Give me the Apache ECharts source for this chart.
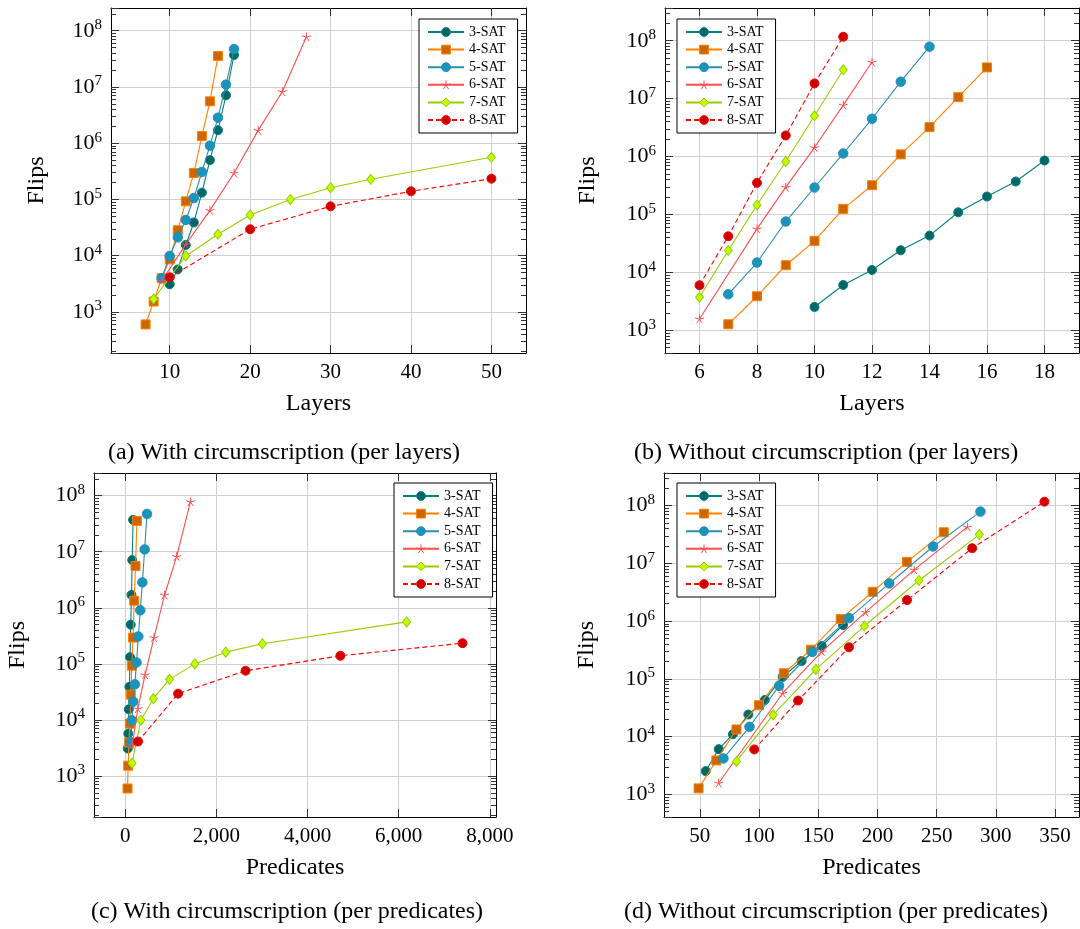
<!DOCTYPE html>
<html><head><meta charset="utf-8">
<script src="https://cdn.jsdelivr.net/npm/echarts@6/dist/echarts.min.js"></script>
<style>html,body{margin:0;padding:0;background:#fff}#c{width:1080px;height:929px}</style>
</head><body><div id="c"></div>
<script>
// ---------- DATA ----------
const seriesNames = ['3-SAT', '4-SAT', '5-SAT', '6-SAT', '7-SAT', '8-SAT'];

// With circumscription (panels a and c)
const wLayers3 = [10, 11, 12, 13, 14, 15, 16, 17, 18];
const wFlips3  = [3100, 5700, 15500, 39000, 132000, 500000, 1700000, 7100000, 37000000];
const wPreds3  = [55, 66, 78, 91, 105, 120, 136, 153, 171];
const wLayers4 = [7, 8, 9, 10, 11, 12, 13, 14, 15, 16];
const wFlips4  = [600, 1530, 3970, 8600, 28300, 92600, 295000, 1340000, 5550000, 35500000];
const wPreds4  = [49, 64, 81, 100, 121, 144, 169, 196, 225, 256];
const wLayers5 = [9, 10, 11, 12, 13, 14, 15, 16, 17, 18];
const wFlips5  = [4000, 9900, 21200, 43200, 106000, 308000, 903000, 2840000, 11000000, 47200000];
const wPreds5  = [117, 145, 176, 210, 247, 287, 330, 376, 425, 477];
const wLayers6 = [9, 12, 15, 18, 21, 24, 27];
const wFlips6  = [3560, 15900, 64000, 295000, 1690000, 8240000, 78000000];
const wPreds6  = [153, 276, 435, 630, 861, 1128, 1431];
const wLayers7 = [8, 12, 16, 20, 25, 30, 35, 50];
const wFlips7  = [1700, 9900, 24000, 53000, 100000, 162000, 228000, 561000];
const wPreds7  = [148, 342, 616, 970, 1525, 2205, 3010, 6175];
const wLayers8 = [10, 20, 30, 40, 50];
const wFlips8  = [4130, 29500, 75500, 139500, 234000];
const wPreds8  = [280, 1160, 2640, 4720, 7400];

// Without circumscription (panels b and d)
const oLayers3 = [10, 11, 12, 13, 14, 15, 16, 17, 18];
const oFlips3  = [2530, 6070, 11000, 24100, 43200, 109000, 204000, 371000, 855000];
const oPreds3  = [55, 66, 78, 91, 105, 120, 136, 153, 171];
const oLayers4 = [7, 8, 9, 10, 11, 12, 13, 14, 15, 16];
const oFlips4  = [1270, 3870, 13300, 35000, 125000, 320000, 1090000, 3220000, 10600000, 34600000];
const oPreds4  = [49, 64, 81, 100, 121, 144, 169, 196, 225, 256];
const oLayers5 = [7, 8, 9, 10, 11, 12, 13, 14];
const oFlips5  = [4190, 14800, 75500, 292000, 1130000, 4490000, 19600000, 78800000];
const oPreds5  = [70, 92, 117, 145, 176, 210, 247, 287];
const oLayers6 = [6, 8, 9, 10, 11, 12];
const oFlips6  = [1570, 56400, 296000, 1430000, 7730000, 42800000];
const oPreds6  = [66, 120, 153, 190, 231, 276];
const oLayers7 = [6, 7, 8, 9, 10, 11];
const oFlips7  = [3720, 23800, 146000, 822000, 5060000, 31500000];
const oPreds7  = [81, 112, 148, 189, 235, 286];
const oLayers8 = [6, 7, 8, 9, 10, 11];
const oFlips8  = [6000, 42100, 352000, 2310000, 18300000, 117000000];
const oPreds8  = [96, 133, 176, 225, 280, 341];

// Tick labels
const xTicksA = [10, 20, 30, 40, 50];
const xTicksB = [6, 8, 10, 12, 14, 16, 18];
const xTicksC = [0, 2000, 4000, 6000, 8000];
const xTicksD = [50, 100, 150, 200, 250, 300, 350];
const yTickExps = [3, 4, 5, 6, 7, 8];

const captions = [
  '(a) With circumscription (per layers)',
  '(b) Without circumscription (per layers)',
  '(c) With circumscription (per predicates)',
  '(d) Without circumscription (per predicates)'
];

// ---------- STYLE / LAYOUT ----------
const FONT = '"Liberation Serif", "DejaVu Serif", serif';
const GRID_C = '#cfcfcf';
const starPath = 'path://M0,0L0,-5M0,0L4.755,-1.545M0,0L2.939,4.045M0,0L-2.939,4.045M0,0L-4.755,-1.545';
const styles = {
  '3-SAT': {symbol: 'circle', symbolSize: 9, itemStyle: {color: '#006666', borderColor: '#008080', borderWidth: 1}, lineStyle: {color: '#008080', width: 1.1}},
  '4-SAT': {symbol: 'rect', symbolSize: 9, itemStyle: {color: '#cc6600', borderColor: '#ff8000', borderWidth: 1}, lineStyle: {color: '#ff8000', width: 1.1}},
  '5-SAT': {symbol: 'circle', symbolSize: 9.5, itemStyle: {color: '#1894bd', borderColor: '#2a8db2', borderWidth: 1}, lineStyle: {color: '#2a8db2', width: 1.1}},
  '6-SAT': {symbol: starPath, symbolSize: 9, symbolKeepAspect: true, itemStyle: {color: 'rgba(0,0,0,0)', borderColor: '#ff4d4d', borderWidth: 1}, lineStyle: {color: '#ff4d4d', width: 1.1}},
  '7-SAT': {symbol: 'diamond', symbolSize: [8, 10], itemStyle: {color: '#bfff00', borderColor: '#99cc00', borderWidth: 1}, lineStyle: {color: '#99cc00', width: 1.1}},
  '8-SAT': {symbol: 'circle', symbolSize: 9, itemStyle: {color: '#cc0000', borderColor: '#ff0000', borderWidth: 1}, lineStyle: {color: '#ff0000', width: 1.1, type: [5, 3]}}
};

const panels = [
  {grid: {left: 111, top: 8, width: 415, height: 345}, x: [2.7, 54.3], y: [2.270, 8.404], xt: xTicksA, xname: 'Layers', yGap: 62,
   legend: {left: 419, top: 19},
   sets: [[wLayers3, wFlips3], [wLayers4, wFlips4], [wLayers5, wFlips5], [wLayers6, wFlips6], [wLayers7, wFlips7], [wLayers8, wFlips8]]},
  {grid: {left: 665, top: 8, width: 414, height: 345}, x: [4.8, 19.2], y: [2.608, 8.565], xt: xTicksB, xname: 'Layers', yGap: 65,
   legend: {left: 677, top: 19},
   sets: [[oLayers3, oFlips3], [oLayers4, oFlips4], [oLayers5, oFlips5], [oLayers6, oFlips6], [oLayers7, oFlips7], [oLayers8, oFlips8]]},
  {grid: {left: 94, top: 473, width: 402, height: 344}, x: [-686.1, 8135.1], y: [2.270, 8.404], xt: xTicksC, xname: 'Predicates', yGap: 64,
   legend: {left: 394, top: 483},
   sets: [[wPreds3, wFlips3], [wPreds4, wFlips4], [wPreds5, wFlips5], [wPreds6, wFlips6], [wPreds7, wFlips7], [wPreds8, wFlips8]]},
  {grid: {left: 664, top: 473, width: 415, height: 344}, x: [19.8, 370.2], y: [2.608, 8.565], xt: xTicksD, xname: 'Predicates', yGap: 65,
   legend: {left: 677, top: 483},
   sets: [[oPreds3, oFlips3], [oPreds4, oFlips4], [oPreds5, oFlips5], [oPreds6, oFlips6], [oPreds7, oFlips7], [oPreds8, oFlips8]]}
];
const captionPos = [[284, 453], [826, 453], [287, 912], [836, 912]];

function minorLogs(r) {
  const out = [];
  for (let e = Math.floor(r[0]); e <= Math.ceil(r[1]); e++) {
    for (let k = 2; k <= 9; k++) {
      const v = e + Math.log10(k);
      if (v >= r[0] && v <= r[1]) out.push(v);
    }
  }
  return out;
}
function majorLogs(r) { return yTickExps.filter(e => e >= r[0] && e <= r[1]); }

const grids = [], xAxes = [], yAxes = [], series = [], legends = [], graphics = [];
const frameLine = {show: true, onZero: false, lineStyle: {color: '#000', width: 1}};
const tickStyle = {color: '#333', width: 1};

panels.forEach((p, gi) => {
  grids.push(Object.assign({containLabel: false}, p.grid));
  xAxes.push({
    type: 'value', gridIndex: gi, position: 'bottom', min: p.x[0], max: p.x[1],
    axisLine: frameLine,
    axisTick: {show: true, inside: true, length: 8, customValues: p.xt, lineStyle: tickStyle},
    axisLabel: {show: true, customValues: p.xt, margin: 9, fontFamily: FONT, fontSize: 21, color: '#000',
      formatter: v => v.toLocaleString('en-US')},
    splitLine: {show: true, lineStyle: {color: GRID_C, width: 1}},
    name: p.xname, nameLocation: 'middle', nameGap: 39,
    nameTextStyle: {fontFamily: FONT, fontSize: 24, color: '#000'}
  });
  xAxes.push({
    type: 'value', gridIndex: gi, position: 'top', min: p.x[0], max: p.x[1],
    axisLine: frameLine,
    axisTick: {show: true, inside: true, length: 8, customValues: p.xt, lineStyle: tickStyle},
    axisLabel: {show: false}, splitLine: {show: false}
  });
  yAxes.push({
    type: 'log', logBase: 10, gridIndex: gi, position: 'left',
    min: Math.pow(10, p.y[0]), max: Math.pow(10, p.y[1]),
    axisLine: frameLine,
    axisTick: {show: true, inside: true, length: 8, lineStyle: tickStyle},
    axisLabel: {show: true, margin: 9, color: '#000',
      formatter: v => {
        const e = Math.log10(v);
        if (Math.abs(e - Math.round(e)) < 1e-6) return '{b|10}{s|' + Math.round(e) + '}';
        return '';
      },
      rich: {
        b: {fontFamily: FONT, fontSize: 22, color: '#000', lineHeight: 26},
        s: {fontFamily: FONT, fontSize: 15, color: '#000', lineHeight: 16, verticalAlign: 'top'}
      }},
    splitLine: {show: true, lineStyle: {color: GRID_C, width: 1}},
    name: 'Flips', nameLocation: 'middle', nameGap: p.yGap, nameRotate: 90,
    nameTextStyle: {fontFamily: FONT, fontSize: 24, color: '#000'}
  });
  yAxes.push({
    type: 'value', gridIndex: gi, position: 'left', min: p.y[0], max: p.y[1],
    axisLine: {show: false, onZero: false},
    axisTick: {show: true, inside: true, length: 5, customValues: minorLogs(p.y), lineStyle: tickStyle},
    axisLabel: {show: false}, splitLine: {show: false}
  });
  yAxes.push({
    type: 'value', gridIndex: gi, position: 'right', min: p.y[0], max: p.y[1],
    axisLine: frameLine,
    axisTick: {show: true, inside: true, length: 8, customValues: majorLogs(p.y), lineStyle: tickStyle},
    axisLabel: {show: false}, splitLine: {show: false}
  });
  yAxes.push({
    type: 'value', gridIndex: gi, position: 'right', min: p.y[0], max: p.y[1],
    axisLine: {show: false, onZero: false},
    axisTick: {show: true, inside: true, length: 5, customValues: minorLogs(p.y), lineStyle: tickStyle},
    axisLabel: {show: false}, splitLine: {show: false}
  });

  p.sets.forEach((s, si) => {
    const name = seriesNames[si];
    series.push(Object.assign({
      name: name, type: 'line', xAxisIndex: 2 * gi, yAxisIndex: 4 * gi,
      data: s[0].map((x, i) => [x, s[1][i]]),
      showSymbol: true, showAllSymbol: true, animation: false, z: 3 + si,
      emphasis: {disabled: true}
    }, styles[name]));
  });

  legends.push({
    data: seriesNames, orient: 'vertical', left: p.legend.left, top: p.legend.top,
    padding: [6, 12, 6, 8], itemWidth: 36, itemHeight: 11, itemGap: 3.6,
    backgroundColor: '#fff', borderColor: '#000', borderWidth: 1, borderRadius: 0,
    textStyle: {fontFamily: FONT, fontSize: 14, color: '#000', lineHeight: 14},
    itemStyle: {borderWidth: 1},
    selectedMode: false, z: 10
  });

  graphics.push({
    type: 'text', x: captionPos[gi][0], y: captionPos[gi][1],
    style: {text: captions[gi], font: '24px ' + FONT, fill: '#000',
      textAlign: 'center', textVerticalAlign: 'middle', align: 'center', verticalAlign: 'middle'}
  });
});

const chart = echarts.init(document.getElementById('c'), null, {renderer: 'canvas'});
chart.setOption({
  animation: false,
  backgroundColor: '#fff',
  grid: grids, xAxis: xAxes, yAxis: yAxes, series: series, legend: legends, graphic: graphics
});
</script>
</body></html>
